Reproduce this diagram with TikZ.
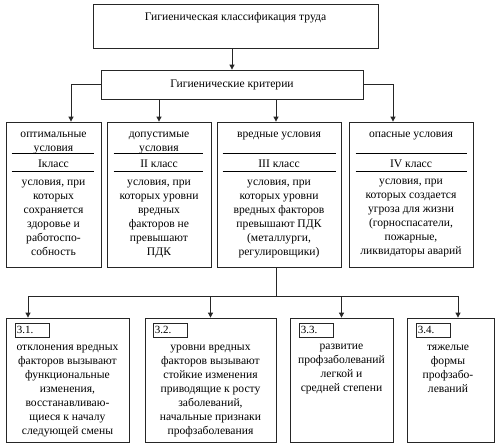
\documentclass[tikz,border=0pt]{standalone}
\usepackage{fontspec}
\setmainfont{Liberation Serif}
\usetikzlibrary{arrows.meta,calc}
\begin{document}
\begin{tikzpicture}[x=1pt,y=-1pt,
 box/.style={draw=black!85, line width=0.8pt, inner sep=0pt, rectangle},
 txt/.style={font=\fontsize{11.6}{14}\selectfont, align=center, inner sep=0pt, anchor=north},
 one/.style={font=\fontsize{11.6}{14}\selectfont, inner sep=0pt, anchor=base},
 lbl/.style={draw=black!85, line width=0.7pt, text width=30pt, minimum height=14pt, inner xsep=2pt, inner ysep=0pt, align=left, anchor=north west, font=\fontsize{11}{12}\selectfont},
 arr/.style={draw=black!85, line width=0.8pt, -{Triangle[length=5pt,width=5pt]}},
 ln/.style={draw=black!85, line width=0.8pt},
 rulel/.style={draw=black, line width=1.4pt}]
\useasboundingbox (0,0) rectangle (500,447);
\fill[white] (0,0) rectangle (500,447);

% boxes
\node[box, minimum width=285pt, minimum height=44pt] (top) at (235.5,26) {};
\node[one] (ttop) at (235.5,20) {Гигиеническая классификация труда};
\node[box, minimum width=262pt, minimum height=29pt, font=\fontsize{11.6}{14}\selectfont] (crit) at (232,84.5) {Гигиенические критерии};

\node[box, minimum width=95pt, minimum height=145pt] (b1) at (53.5,194.5) {};
\node[box, minimum width=104pt, minimum height=145pt] (b2) at (159,194.5) {};
\node[box, minimum width=124pt, minimum height=145pt] (b3) at (279,194.5) {};
\node[box, minimum width=124pt, minimum height=145pt] (b4) at (411,194.5) {};

\node[box, minimum width=123pt, minimum height=124pt] (c1) at (67.5,380) {};
\node[box, minimum width=131pt, minimum height=124pt] (c2) at (210.5,380) {};
\node[box, minimum width=103pt, minimum height=124pt] (c3) at (341.5,380) {};
\node[box, minimum width=87pt, minimum height=124pt] (c4) at (450.5,380) {};

% rules inside row-2 boxes
\foreach \b/\l/\r in {b1/6/7, b2/7/8, b3/6/5, b4/7/6}{
  \draw[rulel] ($(\b.north west)+(\l,32)$) -- ($(\b.north east)+(-\r,32)$);
  \draw[rulel] ($(\b.north west)+(\l,50)$) -- ($(\b.north east)+(-\r,50)$);
}

% row-2 texts
\node[txt] (h1) at (53.5,127.2) {\strut оптимальные\\условия};
\node[one] (k1) at (53.5,167) {Iкласс};
\node[txt] (t1) at (53.5,175.2) {\strut условия, при\\которых\\сохраняется\\здоровье и\\работоспо-\\собность};

\node[txt] (h2) at (159,127.2) {\strut допустимые\\условия};
\node[one] (k2) at (159,167) {II класс};
\node[txt] (t2) at (159,175.2) {\strut условия, при\\которых уровни\\вредных\\факторов не\\превышают\\ПДК};

\node[one] (h3) at (279,137) {вредные условия};
\node[one] (k3) at (279,167) {III класс};
\node[txt] (t3) at (279,175.2) {\strut условия, при\\которых уровни\\вредных факторов\\превышают ПДК\\(металлурги,\\регулировщики)};

\node[one] (h4) at (411,137) {опасные условия};
\node[one] (k4) at (411,167) {IV класс};
\node[txt] (t4) at (411,174.2) {\strut условия, при\\которых создается\\угроза для жизни\\(горноспасатели,\\пожарные,\\ликвидаторы аварий};

% row-3 labels and texts
\node[lbl] (l1) at ($(c1.north west)+(9,5)$) {3.1.};
\node[lbl] (l2) at ($(c2.north west)+(8,5)$) {3.2.};
\node[lbl] (l3) at ($(c3.north west)+(9,5)$) {3.3.};
\node[lbl] (l4) at ($(c4.north west)+(9,5)$) {3.4.};

\node[txt] (s1) at (67.5,340.2) {\strut отклонения вредных\\факторов вызывают\\функциональные\\изменения,\\восстанавливаю-\\щиеся к началу\\следующей смены};
\node[txt] (s2) at (210.5,340.2) {\strut уровни вредных\\факторов вызывают\\стойкие изменения\\приводящие к росту\\заболеваний,\\начальные признаки\\профзаболевания};
\node[txt] (s3) at (341.5,339.2) {\strut развитие\\профзаболеваний\\легкой и\\средней степени};
\node[txt] (s4) at (448,340.2) {\strut тяжелые\\формы\\профзабо-\\леваний};

% connectors
\coordinate (a1) at ([xshift=17.5pt]b1.north);
\coordinate (a3) at ([xshift=-3pt]b3.north);
\coordinate (a4) at ([xshift=-18pt]b4.north);
\draw[arr] (top.south -| crit.north) -- (crit.north);
\draw[arr] (crit.west) -| (a1);
\draw[arr] (crit.south -| b2.north) -- (b2.north);
\draw[arr] (crit.south -| a3) -- (a3);
\draw[arr] (crit.east) -| (a4);

\coordinate (d3) at ([xshift=-3pt]b3.south);
\draw[ln] (d3) -- ++(0,29) coordinate (j);
\coordinate (e1) at ([xshift=-39.5pt]c1.north);
\coordinate (e2) at (c2.north);
\coordinate (e3) at (c3.north);
\coordinate (e4) at ([xshift=7.5pt]c4.north);
\draw[ln] (e1 |- j) -- (e4 |- j);
\foreach \e in {e1,e2,e3,e4}{\draw[arr] (\e |- j) -- (\e);}
\end{tikzpicture}
\end{document}
